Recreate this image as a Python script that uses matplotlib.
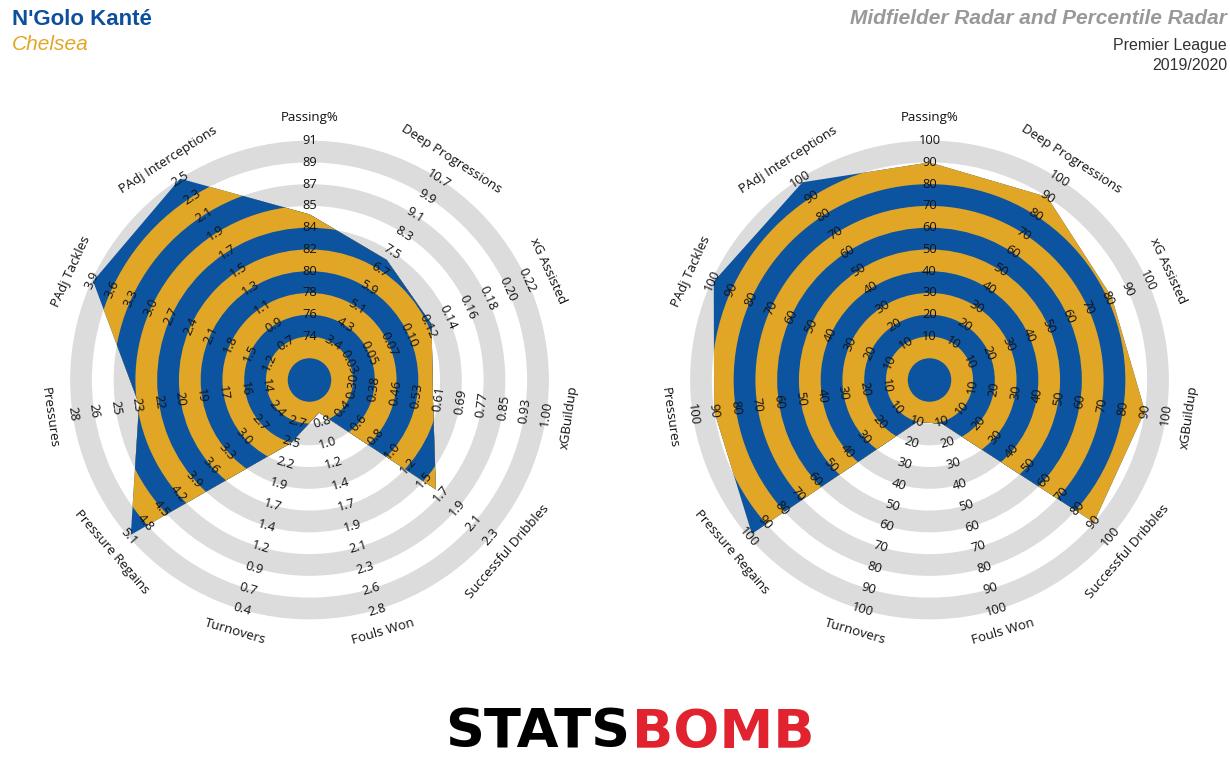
#!/usr/bin/env python3
# -*- coding: utf-8 -*-
# StatsBomb style radar: raw values on the left, percentiles on the right

import numpy as np
import matplotlib
matplotlib.use("Agg")
import matplotlib.pyplot as plt

BLUE = "#0C54A0"
GOLD = "#E2A626"
GREY = "#DCDCDC"

# axes of the radar, clockwise from the top
metrics = ["Passing%", "Deep Progressions", "xG Assisted", "xGBuildup",
           "Successful Dribbles", "Fouls Won", "Turnovers", "Pressure Regains",
           "Pressures", "PAdj Tackles", "PAdj Interceptions"]

# ring labels of the value radar, inner ring -> outer ring
value_ticks = [
    ["74", "76", "78", "80", "82", "84", "85", "87", "89", "91"],
    ["3.4", "4.3", "5.1", "5.9", "6.7", "7.5", "8.3", "9.1", "9.9", "10.7"],
    ["0.03", "0.05", "0.07", "0.10", "0.12", "0.14", "0.16", "0.18", "0.20", "0.22"],
    ["0.30", "0.38", "0.46", "0.53", "0.61", "0.69", "0.77", "0.85", "0.93", "1.00"],
    ["0.4", "0.6", "0.8", "1.0", "1.2", "1.5", "1.7", "1.9", "2.1", "2.3"],
    ["0.8", "1.0", "1.2", "1.4", "1.7", "1.9", "2.1", "2.3", "2.6", "2.8"],
    ["2.7", "2.5", "2.2", "1.9", "1.7", "1.4", "1.2", "0.9", "0.7", "0.4"],
    ["2.4", "2.7", "3.0", "3.3", "3.6", "3.9", "4.2", "4.5", "4.8", "5.1"],
    ["14", "16", "17", "19", "20", "22", "23", "25", "26", "28"],
    ["1.2", "1.5", "1.8", "2.1", "2.4", "2.7", "3.0", "3.3", "3.6", "3.9"],
    ["0.7", "0.9", "1.1", "1.3", "1.5", "1.7", "1.9", "2.1", "2.3", "2.5"],
]

# ring labels of the percentile radar (same on every axis)
percentile_ticks = ["10", "20", "30", "40", "50", "60", "70", "80", "90", "100"]

# N'Golo Kanté, Premier League 2019/2020
player_values = [84.6, 7.1, 0.118, 0.59, 1.60, 0.70, 2.44, 5.06, 23.2, 3.88, 2.50]
player_percentiles = [90, 90, 82, 90, 90, 11, 10, 98, 90, 99, 98]


def to_ring(value, ticks):
    # first tick sits on ring 2, last tick on ring 11
    lo, hi = float(ticks[0]), float(ticks[-1])
    return 2 + 9 * (value - lo) / (hi - lo)


def text_rotation(i):
    rot = -360.0 * i / len(metrics)
    rot = (rot + 180) % 360 - 180
    if rot < -90:
        rot += 180
    elif rot > 90:
        rot -= 180
    return rot


def draw_radar(ax, ticks, values):
    n = len(metrics)
    theta = np.arange(n) * 2 * np.pi / n
    ax.set_theta_zero_location("N")
    ax.set_theta_direction(-1)
    ax.set_ylim(0, 12.5)
    ax.set_axis_off()

    # grey / white background rings, drawn as stacked discs
    for k in range(9, -1, -1):
        ax.bar(0, k + 2, width=2 * np.pi, bottom=0,
               color=GREY if k % 2 else "white", linewidth=0, zorder=1)

    r = [to_ring(v, t) for v, t in zip(values, ticks)]
    poly = ax.fill(np.r_[theta, theta[0]], np.r_[r, r[0]],
                   facecolor="none", edgecolor="none", zorder=2)[0]

    # blue / gold rings inside the player's shape
    for k in range(9, -1, -1):
        bars = ax.bar(0, k + 2, width=2 * np.pi, bottom=0,
                      color=BLUE if k % 2 else GOLD, linewidth=0, zorder=2)
        bars[0].set_clip_path(poly)

    # centre disc
    ax.bar(0, 1, width=2 * np.pi, bottom=0, color=BLUE, linewidth=0, zorder=3)

    for i in range(n):
        rot = text_rotation(i)
        for j, s in enumerate(ticks[i]):
            ax.text(theta[i], 2 + j, s, rotation=rot, rotation_mode="anchor",
                    ha="center", va="center", fontsize=9.3, color="#111111",
                    family=["Open Sans", "DejaVu Sans"], zorder=5)
        ax.text(theta[i], 12.05, metrics[i], rotation=rot, rotation_mode="anchor",
                ha="center", va="center", fontsize=9.5, color="#111111",
                family=["Open Sans", "DejaVu Sans"], zorder=5)


def main():
    fig = plt.figure(figsize=(12.3, 7.8), dpi=100)
    W, H = 1230.0, 780.0
    rad = 272.0
    for cx, ticks, vals in [(309.5, value_ticks, player_values),
                            (929.5, [percentile_ticks] * len(metrics), player_percentiles)]:
        ax = fig.add_axes([(cx - rad) / W, (H - 380 - rad) / H, 2 * rad / W, 2 * rad / H],
                          projection="polar")
        draw_radar(ax, ticks, vals)

    sans = ["Liberation Sans", "DejaVu Sans"]
    fig.text(12 / W, 1 - 25 / H, "N'Golo Kanté", fontsize=16, fontweight="bold",
             color="#0D4F9C", family=sans, va="baseline", ha="left")
    fig.text(12 / W, 1 - 50 / H, "Chelsea", fontsize=15, style="italic",
             color=GOLD, family=sans, va="baseline", ha="left")
    fig.text(1227 / W, 1 - 24 / H, "Midfielder Radar and Percentile Radar", fontsize=15,
             fontweight="bold", style="italic", color="#999999", family=sans,
             va="baseline", ha="right")
    fig.text(1227 / W, 1 - 50 / H, "Premier League", fontsize=11.5, color="#333333",
             family=sans, va="baseline", ha="right")
    fig.text(1227 / W, 1 - 70 / H, "2019/2020", fontsize=11.5, color="#333333",
             family=sans, va="baseline", ha="right")

    # logo
    fig.text(630 / W, 1 - 748 / H, "STATS", fontsize=39, fontweight="heavy",
             color="black", family=["DejaVu Sans"], va="baseline", ha="right")
    fig.text(632 / W, 1 - 748 / H, "BOMB", fontsize=39, fontweight="heavy",
             color="#E0232E", family=["DejaVu Sans"], va="baseline", ha="left")

    fig.savefig("out.png", dpi=100)
    plt.close(fig)


if __name__ == "__main__":
    main()
